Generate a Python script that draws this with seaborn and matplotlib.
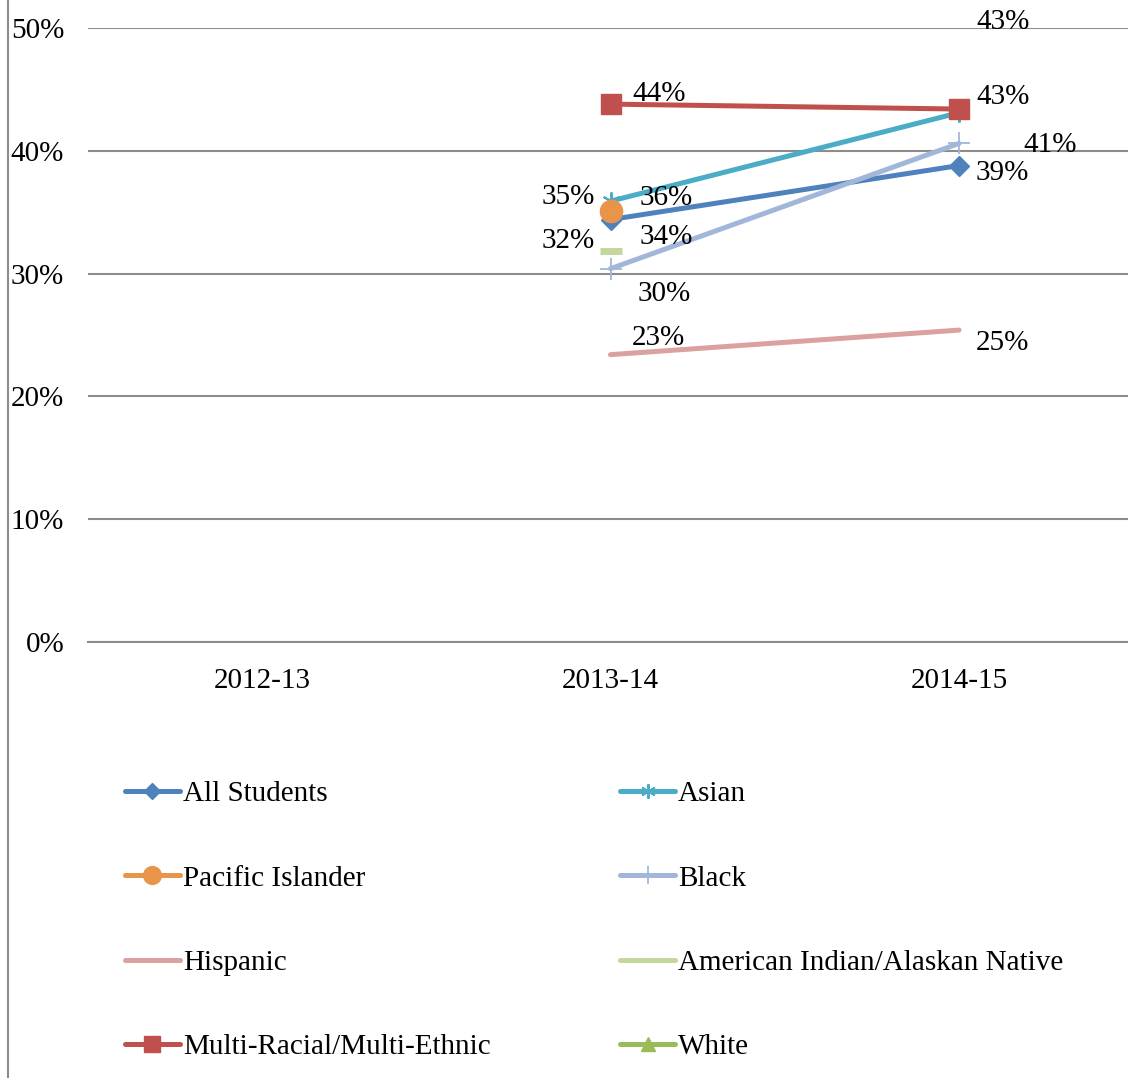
import numpy as np
import pandas as pd
import seaborn as sns
import matplotlib.pyplot as plt
from matplotlib.lines import Line2D
from matplotlib.ticker import PercentFormatter

years = ["2012-13", "2013-14", "2014-15"]

all_students = [np.nan, 34.4, 38.8]
asian = [np.nan, 35.9, 43.1]
pacific_islander = [np.nan, 35.1, np.nan]
black = [np.nan, 30.4, 40.6]
hispanic = [np.nan, 23.4, 25.4]
american_indian = [np.nan, 31.8, np.nan]
multi_racial = [np.nan, 43.8, 43.4]
white = [np.nan, np.nan, np.nan]

names = ["All Students", "Asian", "Pacific Islander", "Black", "Hispanic",
         "American Indian/Alaskan Native", "Multi-Racial/Multi-Ethnic", "White"]
series = [all_students, asian, pacific_islander, black, hispanic,
          american_indian, multi_racial, white]

# styling per series: colour, marker, marker size, marker edge width
styles = {
    "All Students": ("#4F81BD", "D", 10, 1),
    "Asian": ("#4BACC6", (6, 2, 0), 13, 1.5),
    "Pacific Islander": ("#E8954A", "o", 16, 1),
    "Black": ("#A2B6DA", "+", 16, 1.3),
    "Hispanic": ("#DAA19F", None, 0, 0),
    "American Indian/Alaskan Native": ("#C3D69B", "_", 16, 5),
    "Multi-Racial/Multi-Ethnic": ("#C0504D", "s", 15, 1),
    "White": ("#9BBB59", "^", 12, 1),
}

# data label offsets in pixels (dx, dy, ha) for (series, year index)
label_pos = {
    ("Multi-Racial/Multi-Ethnic", 1): (22, 10, "left"),
    ("Asian", 1): (29, 3, "left"),
    ("Pacific Islander", 1): (-16, 14, "right"),
    ("All Students", 1): (29, -17, "left"),
    ("American Indian/Alaskan Native", 1): (-16, 10, "right"),
    ("Black", 1): (27, -25, "left"),
    ("Hispanic", 1): (21, 17, "left"),
    ("Asian", 2): (17, 91, "left"),
    ("Multi-Racial/Multi-Ethnic", 2): (17, 12, "left"),
    ("Black", 2): (64, -2, "left"),
    ("All Students", 2): (17, -7, "left"),
    ("Hispanic", 2): (17, -13, "left"),
}

sns.set_theme(style="white")
plt.rcParams["font.family"] = ["Liberation Serif", "DejaVu Serif"]
plt.rcParams["text.color"] = "black"

fig = plt.figure(figsize=(11.28, 10.78), dpi=100)
ax = fig.add_axes([87.75 / 1128, 436 / 1078, 1045.5 / 1128, 614 / 1078])

xpos = np.arange(len(years))
for name, vals in zip(names, series):
    if np.all(np.isnan(vals)):
        continue
    color, marker, ms, mew = styles[name]
    df = pd.DataFrame({"x": xpos, "y": vals})
    sns.lineplot(data=df, x="x", y="y", ax=ax, color=color, linewidth=3.6,
                 marker=marker, markersize=ms, markeredgewidth=mew,
                 markeredgecolor=color, markerfacecolor=color, legend=False,
                 zorder=3)
    for i, v in enumerate(vals):
        if np.isnan(v) or (name, i) not in label_pos:
            continue
        dx, dy, ha = label_pos[(name, i)]
        ax.annotate(f"{v:.0f}%", xy=(xpos[i], v), xytext=(dx, dy),
                    textcoords="offset pixels", ha=ha, va="center",
                    fontsize=21, color="black", zorder=5)

ax.set_xlim(-0.5, 2.5)
ax.set_ylim(0, 50)
ax.set_yticks([0, 10, 20, 30, 40, 50])
ax.yaxis.set_major_formatter(PercentFormatter(100, decimals=0))
ax.set_xticks(xpos)
ax.set_xticklabels(years)
ax.set_xlabel("")
ax.set_ylabel("")
ax.tick_params(axis="both", length=0, labelsize=21, colors="black")
ax.tick_params(axis="y", pad=17)
ax.tick_params(axis="x", pad=19)
ax.grid(axis="y", color="#8C8C8C", linewidth=1.5)
ax.set_axisbelow(True)
for s in ["top", "right", "left"]:
    ax.spines[s].set_visible(False)
ax.spines["bottom"].set_color("#8C8C8C")
ax.spines["bottom"].set_linewidth(1.5)

fig.add_artist(Line2D([8 / 1128, 8 / 1128], [0, 1], color="#8C8C8C",
                      linewidth=1.5, transform=fig.transFigure))

# legend: column-major order
order = [0, 2, 4, 6, 1, 3, 5, 7]
handles = []
labels = []
for k in order:
    name = names[k]
    color, marker, ms, mew = styles[name]
    if name in ("Hispanic", "American Indian/Alaskan Native"):
        marker = None
    handles.append(Line2D([], [], color=color, linewidth=3.6, marker=marker,
                          markersize=ms * 0.8, markeredgewidth=mew,
                          markeredgecolor=color, markerfacecolor=color,
                          solid_capstyle="round"))
    labels.append(name)

leg = fig.legend(handles, labels, ncol=2, loc="upper left",
                 bbox_to_anchor=(125 / 1128, 1 - 781 / 1078), frameon=False,
                 fontsize=21, handlelength=1.88, handletextpad=0.1,
                 columnspacing=4.45, labelspacing=1.98, borderpad=0,
                 borderaxespad=0)
for t in leg.get_texts():
    t.set_color("black")

fig.savefig("out.png", dpi=100)
